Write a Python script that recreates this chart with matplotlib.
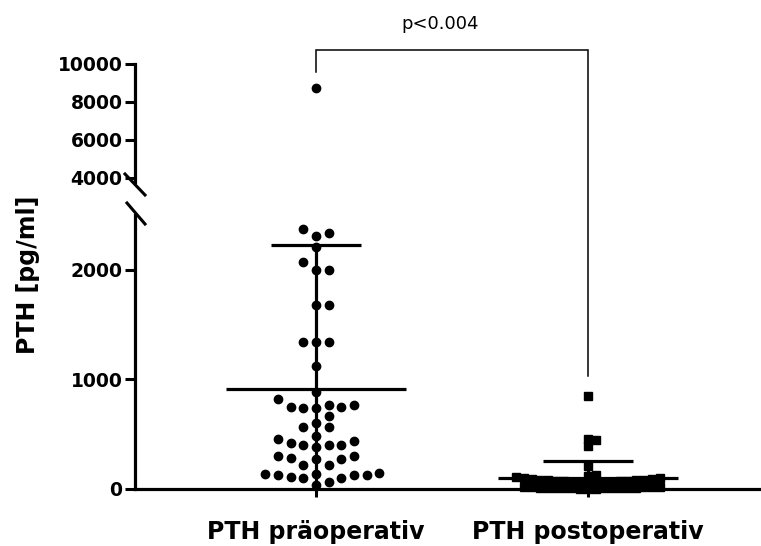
import numpy as np
import matplotlib
matplotlib.use("Agg")
import matplotlib.pyplot as plt
from matplotlib.lines import Line2D

# PTH values (pg/ml)
groups = ["PTH präoperativ", "PTH postoperativ"]
pth_pre = [8750,
           2373, 2339, 2309, 2209, 2067, 1994, 1994, 1682, 1682,
           1345, 1345, 1345, 1121, 885, 818,
           770, 750, 740, 740, 750, 770, 664, 600, 570, 570, 485,
           460, 420, 400, 385, 400, 400, 440,
           300, 270, 220, 220, 270, 280, 300,
           140, 130, 130, 100, 100, 110, 130, 140, 150, 40, 60]
pth_post = [850, 460, 445, 394, 212, 127,
            2, 3, 4, 5, 5, 6, 7, 8, 8, 10, 10, 12, 13, 15, 16, 18, 20, 22,
            60, 62, 64, 65, 66, 68, 70, 72, 74, 76,
            78, 80, 83, 86, 90, 94, 98, 103, 108, 115]
p_text = "p<0.004"

upper_ticks = [4000, 6000, 8000, 10000]
lower_ticks = [0, 1000, 2000]
lower_max = 2500

W, H = 761, 546
fig = plt.figure(figsize=(W / 100, H / 100), dpi=100)

def px_box(left, top, right, bottom):
    return [left / W, 1 - bottom / H, (right - left) / W, (bottom - top) / H]

ax_lo = fig.add_axes(px_box(135, 215, 761, 489))
ax_hi = fig.add_axes(px_box(135, 64, 761, 182))

xlim = (-0.665, 1.636)
for ax in (ax_lo, ax_hi):
    ax.set_xlim(*xlim)
    ax.spines["top"].set_visible(False)
    ax.spines["right"].set_visible(False)
    ax.spines["left"].set_linewidth(2.3)
    ax.spines["bottom"].set_linewidth(2.3)
    ax.tick_params(axis="y", length=7, width=2.2, direction="out", pad=2,
                   labelsize=13.5)

ax_lo.set_ylim(0, lower_max)
ax_hi.set_ylim(10000 - (182 - 64) / 19 * 1000, 10000)
ax_lo.set_yticks(lower_ticks)
ax_hi.set_yticks(upper_ticks)
ax_lo.set_yticklabels([str(t) for t in lower_ticks], fontweight="bold")
ax_hi.set_yticklabels([str(t) for t in upper_ticks], fontweight="bold")

ax_hi.spines["bottom"].set_visible(False)
ax_hi.set_xticks([])
ax_lo.set_xticks([0, 1])
ax_lo.set_xticklabels(groups, fontsize=17, fontweight="bold")
ax_lo.tick_params(axis="x", length=6, width=2.2, direction="out", pad=16)


def swarm_x(ax, xc, vals, step_px, min_dy_px):
    # greedy slot placement: lowest values take the centre, later ones move out
    vals = np.asarray(vals, float)
    ypx = ax.transData.transform(np.column_stack([np.zeros(len(vals)), vals]))[:, 1]
    unit = ax.transData.transform((1, 0))[0] - ax.transData.transform((0, 0))[0]
    cand = [0]
    for k in range(1, 60):
        cand += [k, -k]
    slots = {}
    offs = np.zeros(len(vals))
    for i in np.argsort(vals, kind="stable"):
        for k in cand:
            if all(abs(ypx[i] - y) >= min_dy_px for y in slots.get(k, [])):
                break
        slots.setdefault(k, []).append(ypx[i])
        offs[i] = k
    return xc + offs * step_px / unit


def draw_group(xc, vals, marker, msize, step_px, min_dy_px):
    vals = np.asarray(vals, float)
    low = vals[vals <= lower_max]
    high = vals[vals > lower_max]
    xs = swarm_x(ax_lo, xc, low, step_px, min_dy_px)
    ax_lo.plot(xs, low, ls="none", marker=marker, ms=msize, color="black",
               clip_on=False, zorder=3)
    if len(high):
        ax_hi.plot(swarm_x(ax_hi, xc, high, step_px, min_dy_px), high,
                   ls="none", marker=marker, ms=msize, color="black",
                   clip_on=False, zorder=3)
    m = vals.mean()
    sd = vals.std(ddof=1)
    ax_lo.hlines(m, xc - 0.331, xc + 0.331, color="black", lw=2.3, zorder=4)
    ax_lo.errorbar([xc], [m], yerr=[[sd], [sd]], fmt="none", ecolor="black",
                   elinewidth=2.3, capsize=32.4, capthick=2.3, zorder=4)


draw_group(0, pth_pre, "o", 6.0, 12.7, 10)
draw_group(1, pth_post, "s", 5.8, 8.0, 6)

# significance bracket, spanning both axes
fig.canvas.draw()
y_top = 10000 + (64 - 50) / 19 * 1000
y_left = 10000 - (72 - 64) / 19 * 1000
disp = ax_lo.transData.transform((1, 1030))
y_right = ax_hi.transData.inverted().transform(disp)[1]
ax_hi.plot([0, 0, 1, 1], [y_left, y_top, y_top, y_right], color="black",
           lw=1.1, clip_on=False, solid_joinstyle="miter")
ax_hi.text(0.456, y_top + 900, p_text, ha="center", va="bottom", fontsize=13)

# axis break marks
for (x0, y0, x1, y1) in [(125, 174, 145, 195), (127, 203, 145, 224)]:
    fig.add_artist(Line2D([x0 / W, x1 / W], [1 - y0 / H, 1 - y1 / H],
                          color="black", lw=2.2))

fig.text(28 / W, 1 - 275 / H, "PTH [pg/ml]", rotation=90, ha="center",
         va="center", fontsize=17, fontweight="bold")

fig.savefig("out.png", dpi=100)
